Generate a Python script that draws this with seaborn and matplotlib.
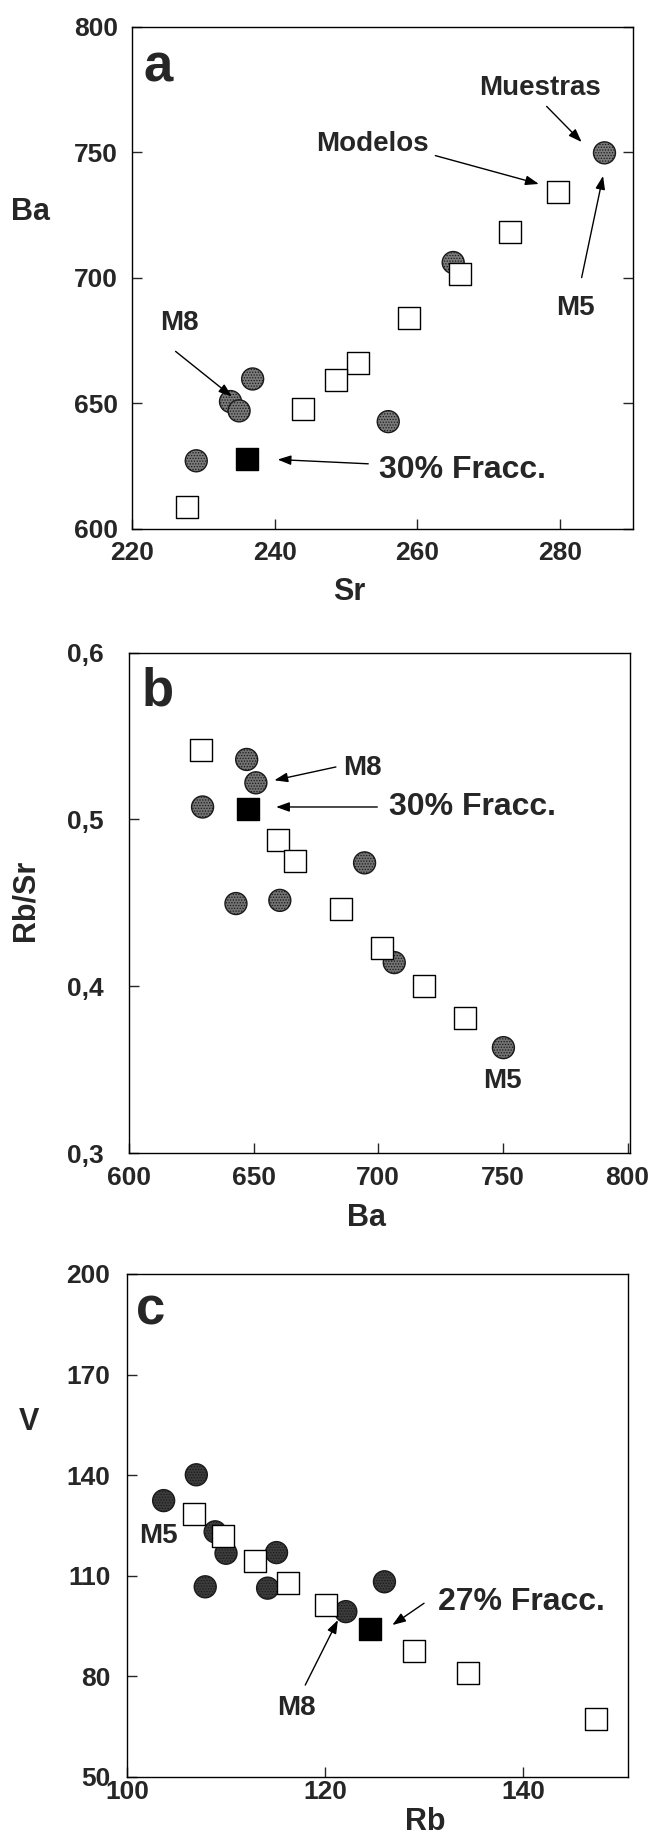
import matplotlib
matplotlib.use("Agg")
import matplotlib.pyplot as plt
import seaborn as sns

# ---- panel a: Sr vs Ba ----
a_muestras_sr = [286.2, 265.0, 236.9, 233.8, 235.0, 255.9, 229.0]
a_muestras_ba = [749.7, 706.0, 659.6, 650.6, 646.9, 642.6, 627.0]
a_modelos_sr = [279.7, 273.0, 266.0, 258.8, 251.6, 248.6, 243.9, 227.7]
a_modelos_ba = [734.0, 718.0, 701.3, 684.0, 666.0, 659.2, 647.7, 608.6]
a_fracc_sr = [236.1]
a_fracc_ba = [627.7]
a_xticks = [220, 240, 260, 280]
a_yticks = [600, 650, 700, 750, 800]

# ---- panel b: Ba vs Rb/Sr ----
b_muestras_ba = [647.2, 650.9, 629.5, 694.5, 642.9, 660.5, 706.4, 750.2]
b_muestras_rbsr = [0.536, 0.522, 0.5075, 0.474, 0.4496, 0.4515, 0.4142, 0.3632]
b_modelos_ba = [628.8, 659.7, 666.7, 685.1, 701.6, 718.4, 734.9]
b_modelos_rbsr = [0.5419, 0.4875, 0.4751, 0.4466, 0.4232, 0.400, 0.3809]
b_fracc_ba = [647.7]
b_fracc_rbsr = [0.5065]
b_xticks = [600, 650, 700, 750, 800]
b_yticks = [0.3, 0.4, 0.5, 0.6]
b_yticklabels = ["0,3", "0,4", "0,5", "0,6"]

# ---- panel c: Rb vs V ----
c_muestras_rb = [103.7, 107.0, 108.9, 110.0, 107.9, 115.1, 114.2, 126.0, 122.1]
c_muestras_v = [132.4, 140.1, 123.1, 116.7, 106.7, 116.9, 106.3, 108.2, 99.3]
c_modelos_rb = [106.8, 109.7, 112.9, 116.3, 120.1, 129.0, 134.4, 147.4]
c_modelos_v = [128.3, 121.7, 114.4, 107.9, 101.3, 87.7, 80.9, 67.3]
c_fracc_rb = [124.5]
c_fracc_v = [94.1]
c_xticks = [100, 120, 140]
c_yticks = [50, 80, 110, 140, 170, 200]

sns.set_style("ticks")
plt.rcParams["font.family"] = ["Liberation Sans", "DejaVu Sans"]
plt.rcParams["font.weight"] = "bold"
plt.rcParams["axes.labelweight"] = "bold"
plt.rcParams["hatch.linewidth"] = 0.6
plt.rcParams["hatch.color"] = "#1a1a1a"

fig = plt.figure(figsize=(6.52, 18.34), dpi=100)
fig.patch.set_facecolor("white")

ARROW = dict(arrowstyle="-|>,head_length=0.5,head_width=0.18", color="black",
             lw=1.0, mutation_scale=16, shrinkA=0, shrinkB=0)


def draw_points(ax, mx, my, qx, qy, fx, fy, circle_face):
    sns.scatterplot(x=mx, y=my, ax=ax, marker="o", s=250, color=circle_face,
                    edgecolor="#1a1a1a", linewidth=1.0, hatch="......", zorder=3)
    sns.scatterplot(x=qx, y=qy, ax=ax, marker="s", s=262, color="white",
                    edgecolor="black", linewidth=1.0, zorder=4)
    sns.scatterplot(x=fx, y=fy, ax=ax, marker="s", s=262, color="black",
                    edgecolor="black", linewidth=1.0, zorder=5)


def style_axes(ax, xlim, ylim, xticks, yticks, xpad, ypad, right_ticks=False):
    ax.set_xlim(*xlim)
    ax.set_ylim(*ylim)
    ax.set_xticks(xticks)
    ax.set_yticks(yticks)
    ax.tick_params(direction="in", length=7, width=1.0, labelsize=19,
                   right=right_ticks, top=False)
    ax.tick_params(axis="x", pad=xpad)
    ax.tick_params(axis="y", pad=ypad)
    for lab in ax.get_xticklabels() + ax.get_yticklabels():
        lab.set_fontweight("bold")
    for sp in ax.spines.values():
        sp.set_visible(True)
        sp.set_linewidth(1.0)
        sp.set_color("black")


def note(ax, text, xy, size=20, ha="center"):
    ax.text(xy[0], xy[1], text, fontsize=size, fontweight="bold",
            ha=ha, va="center", zorder=6)


def arrow(ax, tail, head):
    ax.annotate("", xy=head, xytext=tail, arrowprops=ARROW, zorder=6)


# ---------------- panel a ----------------
ax1 = fig.add_axes([0.2025, 0.7118, 0.7684, 0.2737])
draw_points(ax1, a_muestras_sr, a_muestras_ba, a_modelos_sr, a_modelos_ba,
            a_fracc_sr, a_fracc_ba, "#7a7a7a")
style_axes(ax1, (220, 290.2), (600, 800), a_xticks, a_yticks, 9, 10, right_ticks=True)
ax1.set_xlabel("Sr", fontsize=22, ha="center", va="center")
ax1.xaxis.set_label_coords(0.434, -0.126)
ax1.set_ylabel("Ba", fontsize=22, rotation=0, ha="center", va="center")
ax1.yaxis.set_label_coords(-0.2036, 0.631)
ax1.text(0.022, 0.89, "a", transform=ax1.transAxes, fontsize=38, fontweight="bold")

note(ax1, "Muestras", (277.1, 775.7))
arrow(ax1, (278.1, 768.2), (283.0, 754.0))
note(ax1, "Modelos", (253.7, 753.3))
arrow(ax1, (262.5, 748.6), (277.0, 737.3))
note(ax1, "M5", (282.1, 687.7))
arrow(ax1, (283.0, 700.0), (286.0, 740.5))
note(ax1, "M8", (226.6, 682.0))
arrow(ax1, (226.1, 670.6), (234.0, 652.6))
note(ax1, "30% Fracc.", (254.6, 623.5), size=23, ha="left")
arrow(ax1, (253.1, 625.8), (240.4, 627.5))

# ---------------- panel b ----------------
ax2 = fig.add_axes([0.1979, 0.3713, 0.7684, 0.2728])
draw_points(ax2, b_muestras_ba, b_muestras_rbsr, b_modelos_ba, b_modelos_rbsr,
            b_fracc_ba, b_fracc_rbsr, "#727272")
style_axes(ax2, (600, 801), (0.3, 0.6), b_xticks, b_yticks, 9, 18)
ax2.set_yticklabels(b_yticklabels)
for lab in ax2.get_yticklabels():
    lab.set_fontweight("bold")
ax2.set_xlabel("Ba", fontsize=22, ha="center", va="center")
ax2.xaxis.set_label_coords(0.474, -0.1305)
ax2.set_ylabel("Rb/Sr", fontsize=22, rotation=90, ha="center", va="center")
ax2.yaxis.set_label_coords(-0.2076, 0.506)
ax2.text(0.026, 0.895, "b", transform=ax2.transAxes, fontsize=38, fontweight="bold")

note(ax2, "M8", (693.6, 0.5311))
arrow(ax2, (683.0, 0.5315), (658.3, 0.5235))
note(ax2, "30% Fracc.", (704.3, 0.5075), size=23, ha="left")
arrow(ax2, (699.6, 0.5075), (659.0, 0.5075))
note(ax2, "M5", (750.0, 0.3431))

# ---------------- panel c ----------------
ax3 = fig.add_axes([0.1948, 0.0311, 0.7684, 0.2743])
draw_points(ax3, c_muestras_rb, c_muestras_v, c_modelos_rb, c_modelos_v,
            c_fracc_rb, c_fracc_v, "#3c3c3c")
style_axes(ax3, (100, 150.6), (50, 200), c_xticks, c_yticks, 2.5, 12)
ax3.set_xlabel("Rb", fontsize=22, ha="center", va="center")
ax3.xaxis.set_label_coords(0.595, -0.089)
ax3.set_ylabel("V", fontsize=22, rotation=0, ha="center", va="center")
ax3.yaxis.set_label_coords(-0.195, 0.706)
ax3.text(0.018, 0.899, "c", transform=ax3.transAxes, fontsize=38, fontweight="bold")

note(ax3, "M5", (103.2, 121.7))
note(ax3, "M8", (117.1, 70.5))
arrow(ax3, (118.0, 77.4), (121.3, 96.8))
note(ax3, "27% Fracc.", (131.4, 102.3), size=23, ha="left")
arrow(ax3, (130.0, 101.8), (126.8, 95.3))

fig.savefig("out.png", dpi=100, facecolor="white")
